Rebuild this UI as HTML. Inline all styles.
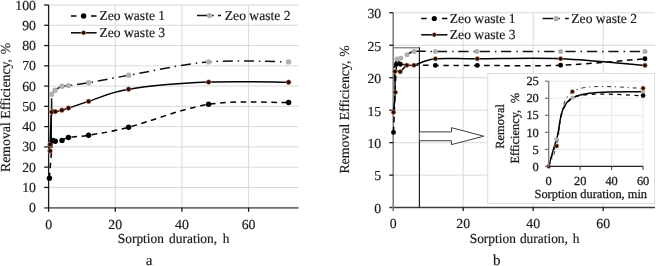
<!DOCTYPE html>
<html><head><meta charset="utf-8"><style>
html,body{margin:0;padding:0;background:#fff;}
body{width:656px;height:266px;overflow:hidden;}
svg{display:block;will-change:transform;}
svg text{font-family:"Liberation Serif",serif;fill:#1a1a1a;stroke:#1a1a1a;stroke-width:0.18px;text-rendering:geometricPrecision;}
</style></head><body>
<svg width="656" height="266" viewBox="0 0 656 266">
<rect width="656" height="266" fill="#fff"/>
<line x1="48.6" y1="187.43" x2="298.6" y2="187.43" stroke="#d9d9d9" stroke-width="1.0"/>
<line x1="48.6" y1="167.16" x2="298.6" y2="167.16" stroke="#d9d9d9" stroke-width="1.0"/>
<line x1="48.6" y1="146.89" x2="298.6" y2="146.89" stroke="#d9d9d9" stroke-width="1.0"/>
<line x1="48.6" y1="126.62" x2="298.6" y2="126.62" stroke="#d9d9d9" stroke-width="1.0"/>
<line x1="48.6" y1="106.35" x2="298.6" y2="106.35" stroke="#d9d9d9" stroke-width="1.0"/>
<line x1="48.6" y1="86.08" x2="298.6" y2="86.08" stroke="#d9d9d9" stroke-width="1.0"/>
<line x1="48.6" y1="65.81" x2="298.6" y2="65.81" stroke="#d9d9d9" stroke-width="1.0"/>
<line x1="48.6" y1="45.54" x2="298.6" y2="45.54" stroke="#d9d9d9" stroke-width="1.0"/>
<line x1="48.6" y1="25.27" x2="298.6" y2="25.27" stroke="#d9d9d9" stroke-width="1.0"/>
<line x1="48.6" y1="5" x2="298.6" y2="5" stroke="#d9d9d9" stroke-width="1.0"/>
<line x1="115.27" y1="5" x2="115.27" y2="207.7" stroke="#d9d9d9" stroke-width="1.0"/>
<line x1="181.93" y1="5" x2="181.93" y2="207.7" stroke="#d9d9d9" stroke-width="1.0"/>
<line x1="248.6" y1="5" x2="248.6" y2="207.7" stroke="#d9d9d9" stroke-width="1.0"/>
<line x1="44.2" y1="207.9" x2="298.6" y2="207.9" stroke="#6e6e6e" stroke-width="1.6"/>
<line x1="48.6" y1="5" x2="48.6" y2="211.8" stroke="#1a1a1a" stroke-width="1.3"/>
<line x1="44.2" y1="187.43" x2="48.6" y2="187.43" stroke="#1a1a1a" stroke-width="1.3"/>
<line x1="44.2" y1="167.16" x2="48.6" y2="167.16" stroke="#1a1a1a" stroke-width="1.3"/>
<line x1="44.2" y1="146.89" x2="48.6" y2="146.89" stroke="#1a1a1a" stroke-width="1.3"/>
<line x1="44.2" y1="126.62" x2="48.6" y2="126.62" stroke="#1a1a1a" stroke-width="1.3"/>
<line x1="44.2" y1="106.35" x2="48.6" y2="106.35" stroke="#1a1a1a" stroke-width="1.3"/>
<line x1="44.2" y1="86.08" x2="48.6" y2="86.08" stroke="#1a1a1a" stroke-width="1.3"/>
<line x1="44.2" y1="65.81" x2="48.6" y2="65.81" stroke="#1a1a1a" stroke-width="1.3"/>
<line x1="44.2" y1="45.54" x2="48.6" y2="45.54" stroke="#1a1a1a" stroke-width="1.3"/>
<line x1="44.2" y1="25.27" x2="48.6" y2="25.27" stroke="#1a1a1a" stroke-width="1.3"/>
<line x1="44.2" y1="5" x2="48.6" y2="5" stroke="#1a1a1a" stroke-width="1.3"/>
<line x1="115.27" y1="207.7" x2="115.27" y2="211.8" stroke="#1a1a1a" stroke-width="1.3"/>
<line x1="181.93" y1="207.7" x2="181.93" y2="211.8" stroke="#1a1a1a" stroke-width="1.3"/>
<line x1="248.6" y1="207.7" x2="248.6" y2="211.8" stroke="#1a1a1a" stroke-width="1.3"/>
<path d="M51.6,94.2 C52.18,93.53 53.37,91.52 55.1,90.2 C56.83,88.88 59.78,87.07 62,86.3 C64.22,85.53 63.97,86.18 68.4,85.6 C72.83,85.02 78.55,84.52 88.6,82.8 C98.65,81.08 108.7,78.78 128.7,75.3 C148.7,71.82 181.95,64.13 208.6,61.9 C235.25,59.67 275.27,61.9 288.6,61.9" fill="none" stroke="#111" stroke-width="1.5" stroke-dasharray="10 4.8 1.5 4.8" stroke-dashoffset="-7.4"/>
<line x1="51.6" y1="98.3" x2="51.6" y2="109.2" stroke="#111" stroke-width="1.5"/>
<path d="M50.1,150.9 C50.1,149.83 49.82,150.98 50.1,144.5 C50.38,138.02 50.93,117.48 51.8,112 C52.67,106.52 53.62,111.9 55.3,111.6 C56.98,111.3 59.72,110.78 61.9,110.2 C64.08,109.62 63.95,109.57 68.4,108.1 C72.85,106.63 78.57,104.55 88.6,101.4 C98.63,98.25 108.6,92.42 128.6,89.2 C148.6,85.98 181.93,83.25 208.6,82.1 C235.27,80.95 275.27,82.27 288.6,82.3" fill="none" stroke="#000" stroke-width="1.5"/>
<path d="M49.4,178.3 C49.93,172.02 51.62,146.78 52.6,140.6 C53.58,134.42 53.73,141.23 55.3,141.2 C56.87,141.17 59.82,141.02 62,140.4 C64.18,139.78 63.97,138.37 68.4,137.5 C72.83,136.63 78.57,136.9 88.6,135.2 C98.63,133.5 108.6,132.45 128.6,127.3 C148.6,122.15 181.93,108.43 208.6,104.3 C235.27,100.17 275.27,102.8 288.6,102.5" fill="none" stroke="#000" stroke-width="1.5" stroke-dasharray="5.6 4.6" stroke-dashoffset="0"/>
<path d="M51.2,114.5 L51.2,137 Q51.4,140.3 54,140.5" fill="none" stroke="#000" stroke-width="1.4"/>
<circle cx="51.6" cy="94.2" r="2.7" fill="#b0b0b0"/>
<circle cx="55.1" cy="90.2" r="2.7" fill="#b0b0b0"/>
<circle cx="62" cy="86.3" r="2.7" fill="#b0b0b0"/>
<circle cx="68.4" cy="85.6" r="2.7" fill="#b0b0b0"/>
<circle cx="88.6" cy="82.8" r="2.7" fill="#b0b0b0"/>
<circle cx="128.7" cy="75.3" r="2.7" fill="#b0b0b0"/>
<circle cx="208.6" cy="61.9" r="2.7" fill="#b0b0b0"/>
<circle cx="288.6" cy="61.9" r="2.7" fill="#b0b0b0"/>
<circle cx="50.1" cy="150.9" r="2.45" fill="#240800" stroke="#dca080" stroke-width="0.65"/>
<circle cx="50.1" cy="144.5" r="2.45" fill="#240800" stroke="#dca080" stroke-width="0.65"/>
<circle cx="51.8" cy="112" r="2.45" fill="#240800" stroke="#dca080" stroke-width="0.65"/>
<circle cx="55.3" cy="111.6" r="2.45" fill="#240800" stroke="#dca080" stroke-width="0.65"/>
<circle cx="61.9" cy="110.2" r="2.45" fill="#240800" stroke="#dca080" stroke-width="0.65"/>
<circle cx="68.4" cy="108.1" r="2.45" fill="#240800" stroke="#dca080" stroke-width="0.65"/>
<circle cx="88.6" cy="101.4" r="2.45" fill="#240800" stroke="#dca080" stroke-width="0.65"/>
<circle cx="128.6" cy="89.2" r="2.45" fill="#240800" stroke="#dca080" stroke-width="0.65"/>
<circle cx="208.6" cy="82.1" r="2.45" fill="#240800" stroke="#dca080" stroke-width="0.65"/>
<circle cx="288.6" cy="82.3" r="2.45" fill="#240800" stroke="#dca080" stroke-width="0.65"/>
<circle cx="49.4" cy="178.3" r="2.7" fill="#000"/>
<circle cx="52.6" cy="140.6" r="2.7" fill="#000"/>
<circle cx="55.3" cy="141.2" r="2.7" fill="#000"/>
<circle cx="62" cy="140.4" r="2.7" fill="#000"/>
<circle cx="68.4" cy="137.5" r="2.7" fill="#000"/>
<circle cx="88.6" cy="135.2" r="2.7" fill="#000"/>
<circle cx="128.6" cy="127.3" r="2.7" fill="#000"/>
<circle cx="208.6" cy="104.3" r="2.7" fill="#000"/>
<circle cx="288.6" cy="102.5" r="2.7" fill="#000"/>
<text x="36" y="212.3" font-size="13.8" text-anchor="end">0</text>
<text x="36" y="192.03" font-size="13.8" text-anchor="end">10</text>
<text x="36" y="171.76" font-size="13.8" text-anchor="end">20</text>
<text x="36" y="151.49" font-size="13.8" text-anchor="end">30</text>
<text x="36" y="131.22" font-size="13.8" text-anchor="end">40</text>
<text x="36" y="110.95" font-size="13.8" text-anchor="end">50</text>
<text x="36" y="90.68" font-size="13.8" text-anchor="end">60</text>
<text x="36" y="70.41" font-size="13.8" text-anchor="end">70</text>
<text x="36" y="50.14" font-size="13.8" text-anchor="end">80</text>
<text x="36" y="29.87" font-size="13.8" text-anchor="end">90</text>
<text x="36" y="9.6" font-size="13.8" text-anchor="end">100</text>
<text x="48.6" y="228.8" font-size="13.8" text-anchor="middle">0</text>
<text x="115.27" y="228.8" font-size="13.8" text-anchor="middle">20</text>
<text x="181.93" y="228.8" font-size="13.8" text-anchor="middle">40</text>
<text x="248.6" y="228.8" font-size="13.8" text-anchor="middle">60</text>
<text transform="translate(117.8,243.3) scale(0.971,1)" font-size="13.8">Sorption</text>
<text transform="translate(169.1,243.3) scale(0.971,1)" font-size="13.8">duration,</text>
<text transform="translate(222.7,243.3) scale(0.971,1)" font-size="13.8">h</text>
<text x="145.7" y="264.7" font-size="15">a</text>
<text transform="translate(9.7,172) rotate(-90)" font-size="13.8">Removal Efficiency,<tspan dx="1.2"> %</tspan></text>
<line x1="71" y1="16" x2="96.6" y2="16" stroke="#000" stroke-width="1.5" stroke-dasharray="5.5 14.5 5.5"/>
<circle cx="83.6" cy="16" r="2.7" fill="#000"/>
<text transform="translate(99.5,20.2) scale(0.985,1)" font-size="13.8">Zeo waste 1</text>
<line x1="71" y1="32.8" x2="96.6" y2="32.8" stroke="#000" stroke-width="1.5"/>
<circle cx="83.6" cy="32.8" r="2.3" fill="#240800" stroke="#eec4ae" stroke-width="0.6"/>
<text transform="translate(99.5,37) scale(0.985,1)" font-size="13.8">Zeo waste 3</text>
<line x1="197" y1="15.6" x2="221" y2="15.6" stroke="#111" stroke-width="1.5" stroke-dasharray="10 5.2 1.6 4.1 3.1"/>
<circle cx="209.4" cy="15.6" r="2.7" fill="#b0b0b0"/>
<text transform="translate(224.8,20) scale(0.985,1)" font-size="13.8">Zeo waste 2</text>
<line x1="393.2" y1="175.13" x2="655" y2="175.13" stroke="#d9d9d9" stroke-width="1.0"/>
<line x1="393.2" y1="142.67" x2="655" y2="142.67" stroke="#d9d9d9" stroke-width="1.0"/>
<line x1="393.2" y1="110.2" x2="655" y2="110.2" stroke="#d9d9d9" stroke-width="1.0"/>
<line x1="393.2" y1="77.73" x2="655" y2="77.73" stroke="#d9d9d9" stroke-width="1.0"/>
<line x1="393.2" y1="45.27" x2="655" y2="45.27" stroke="#d9d9d9" stroke-width="1.0"/>
<line x1="393.2" y1="12.8" x2="655" y2="12.8" stroke="#d9d9d9" stroke-width="1.0"/>
<line x1="463.2" y1="12.8" x2="463.2" y2="207.6" stroke="#d9d9d9" stroke-width="1.0"/>
<line x1="533.2" y1="12.8" x2="533.2" y2="207.6" stroke="#d9d9d9" stroke-width="1.0"/>
<line x1="603.2" y1="12.8" x2="603.2" y2="207.6" stroke="#d9d9d9" stroke-width="1.0"/>
<line x1="389.2" y1="207.5" x2="655" y2="207.5" stroke="#3c3c3c" stroke-width="1.35"/>
<line x1="393.2" y1="12.8" x2="393.2" y2="211" stroke="#7a7a7a" stroke-width="1.5"/>
<line x1="389.2" y1="175.13" x2="393.2" y2="175.13" stroke="#1a1a1a" stroke-width="1.3"/>
<line x1="389.2" y1="142.67" x2="393.2" y2="142.67" stroke="#1a1a1a" stroke-width="1.3"/>
<line x1="389.2" y1="110.2" x2="393.2" y2="110.2" stroke="#1a1a1a" stroke-width="1.3"/>
<line x1="389.2" y1="77.73" x2="393.2" y2="77.73" stroke="#1a1a1a" stroke-width="1.3"/>
<line x1="389.2" y1="45.27" x2="393.2" y2="45.27" stroke="#1a1a1a" stroke-width="1.3"/>
<line x1="389.2" y1="12.8" x2="393.2" y2="12.8" stroke="#1a1a1a" stroke-width="1.3"/>
<line x1="463.2" y1="207.6" x2="463.2" y2="211" stroke="#1a1a1a" stroke-width="1.3"/>
<line x1="533.2" y1="207.6" x2="533.2" y2="211" stroke="#1a1a1a" stroke-width="1.3"/>
<line x1="603.2" y1="207.6" x2="603.2" y2="211" stroke="#1a1a1a" stroke-width="1.3"/>
<path d="M394.2,68 C394.65,66.48 395.83,60.52 396.9,58.9 C397.97,57.28 398.93,58.98 400.6,58.3 C402.27,57.62 404.67,55.93 406.9,54.8 C409.13,53.67 409.27,52.05 414,51.5" fill="none" stroke="#111" stroke-width="1.5" stroke-dasharray="10 4.8 1.5 4.8" stroke-dashoffset="0"/>
<path d="M414,51.5 C418.73,50.95 424.82,51.5 435.3,51.5 C445.78,51.5 456.02,51.5 476.9,51.5 C497.78,51.5 532.58,51.5 560.6,51.5 C588.62,51.5 630.93,51.5 645,51.5" fill="none" stroke="#111" stroke-width="1.5" stroke-dasharray="10.2 4.9 1.5 4.8" stroke-dashoffset="-1.7"/>
<path d="M393.5,112.3 C393.8,108.97 395.05,99.1 395.3,92.3 C395.55,85.5 394.18,74.92 395,71.5 C395.82,68.08 398.22,72.85 400.2,71.8 C402.18,70.75 404.6,66.3 406.9,65.2 C409.2,64.1 409.25,66.27 414,65.2 C418.75,64.13 424.85,59.87 435.4,58.8 C445.95,57.73 456.43,58.82 477.3,58.8 C498.17,58.78 532.65,57.6 560.6,58.7 C588.55,59.8 630.93,64.28 645,65.4" fill="none" stroke="#000" stroke-width="1.5"/>
<path d="M393.5,132.4 C394.02,121.03 395.45,75.57 396.6,64.2 C397.75,52.83 398.63,64.07 400.4,64.2 C402.17,64.33 404.9,64.83 407.2,65 C409.5,65.17 409.5,65.13 414.2,65.2 C418.9,65.27 424.88,65.37 435.4,65.4 C445.92,65.43 456.43,65.42 477.3,65.4 C498.17,65.38 532.65,66.42 560.6,65.3 C588.55,64.18 630.93,59.8 645,58.7" fill="none" stroke="#000" stroke-width="1.5" stroke-dasharray="5.6 4.6"/>
<circle cx="396.9" cy="58.9" r="2.5" fill="#b0b0b0"/>
<circle cx="400.6" cy="58.3" r="2.5" fill="#b0b0b0"/>
<circle cx="406.9" cy="54.8" r="2.5" fill="#b0b0b0"/>
<circle cx="414" cy="51.5" r="2.5" fill="#b0b0b0"/>
<circle cx="435.3" cy="51.5" r="2.5" fill="#b0b0b0"/>
<circle cx="476.9" cy="51.5" r="2.5" fill="#b0b0b0"/>
<circle cx="560.6" cy="51.5" r="2.5" fill="#b0b0b0"/>
<circle cx="645" cy="51.5" r="2.5" fill="#b0b0b0"/>
<circle cx="393.5" cy="112.3" r="2.3" fill="#240800" stroke="#dca080" stroke-width="0.65"/>
<circle cx="395.3" cy="92.3" r="2.3" fill="#240800" stroke="#dca080" stroke-width="0.65"/>
<circle cx="395" cy="71.5" r="2.3" fill="#240800" stroke="#dca080" stroke-width="0.65"/>
<circle cx="400.2" cy="71.8" r="2.3" fill="#240800" stroke="#dca080" stroke-width="0.65"/>
<circle cx="406.9" cy="65.2" r="2.3" fill="#240800" stroke="#dca080" stroke-width="0.65"/>
<circle cx="414" cy="65.2" r="2.3" fill="#240800" stroke="#dca080" stroke-width="0.65"/>
<circle cx="435.4" cy="58.8" r="2.3" fill="#240800" stroke="#dca080" stroke-width="0.65"/>
<circle cx="477.3" cy="58.8" r="2.3" fill="#240800" stroke="#dca080" stroke-width="0.65"/>
<circle cx="560.6" cy="58.7" r="2.3" fill="#240800" stroke="#dca080" stroke-width="0.65"/>
<circle cx="645" cy="65.4" r="2.3" fill="#240800" stroke="#dca080" stroke-width="0.65"/>
<circle cx="393.5" cy="132.4" r="2.45" fill="#000"/>
<circle cx="396.6" cy="64.2" r="2.45" fill="#000"/>
<circle cx="400.4" cy="64.2" r="2.45" fill="#000"/>
<circle cx="435.4" cy="65.4" r="2.45" fill="#000"/>
<circle cx="477.3" cy="65.4" r="2.45" fill="#000"/>
<circle cx="560.6" cy="65.3" r="2.45" fill="#000"/>
<circle cx="645" cy="58.7" r="2.45" fill="#000"/>
<line x1="393.2" y1="47.8" x2="419.4" y2="47.8" stroke="#6a6a6a" stroke-width="1.1"/>
<line x1="419.4" y1="47.3" x2="419.4" y2="207.6" stroke="#111" stroke-width="1.1"/>
<text x="381.2" y="212.9" font-size="13.8" text-anchor="end">0</text>
<text x="381.2" y="180.43" font-size="13.8" text-anchor="end">5</text>
<text x="381.2" y="147.97" font-size="13.8" text-anchor="end">10</text>
<text x="381.2" y="115.5" font-size="13.8" text-anchor="end">15</text>
<text x="381.2" y="83.03" font-size="13.8" text-anchor="end">20</text>
<text x="381.2" y="50.57" font-size="13.8" text-anchor="end">25</text>
<text x="381.2" y="18.1" font-size="13.8" text-anchor="end">30</text>
<text x="393.2" y="227.5" font-size="13.8" text-anchor="middle">0</text>
<text x="463.2" y="227.5" font-size="13.8" text-anchor="middle">20</text>
<text x="533.2" y="227.5" font-size="13.8" text-anchor="middle">40</text>
<text x="603.2" y="227.5" font-size="13.8" text-anchor="middle">60</text>
<text transform="translate(469.7,242.9) scale(0.971,1)" font-size="13.8">Sorption</text>
<text transform="translate(519.9,242.9) scale(0.971,1)" font-size="13.8">duration,</text>
<text transform="translate(572.7,242.9) scale(0.971,1)" font-size="13.8">h</text>
<text x="492.9" y="264.8" font-size="15">b</text>
<text transform="translate(348.5,173.6) rotate(-90)" font-size="13.8">Removal Efficiency,<tspan dx="0.3"> %</tspan></text>
<line x1="421.2" y1="18.5" x2="447.4" y2="18.5" stroke="#000" stroke-width="1.5" stroke-dasharray="5.5 15.2 5.5"/>
<circle cx="434.3" cy="18.5" r="2.6" fill="#000"/>
<text transform="translate(449.8,22.5) scale(0.985,1)" font-size="13.8">Zeo waste 1</text>
<line x1="421.2" y1="34.8" x2="447.4" y2="34.8" stroke="#000" stroke-width="1.5"/>
<circle cx="434.3" cy="34.8" r="2.2" fill="#240800" stroke="#eec4ae" stroke-width="0.6"/>
<text transform="translate(449.8,39.3) scale(0.985,1)" font-size="13.8">Zeo waste 3</text>
<line x1="542.5" y1="18.5" x2="569" y2="18.5" stroke="#111" stroke-width="1.5" stroke-dasharray="10.5 5.2 1.6 5.2 3.8"/>
<circle cx="556" cy="18.5" r="2.6" fill="#b0b0b0"/>
<text transform="translate(571.3,22.5) scale(0.985,1)" font-size="13.8">Zeo waste 2</text>
<path d="M419.7,131.9 H451.5 V127.7 L483.7,136.2 L451.5,144.6 V140.7 H419.7" fill="#fff" stroke="#404040" stroke-width="1"/>
<rect x="487.7" y="73.5" width="166.9" height="130.0" fill="#fff" stroke="#dedede" stroke-width="1"/>
<line x1="548.7" y1="149.36" x2="643.1" y2="149.36" stroke="#e3e3e3" stroke-width="0.8"/>
<line x1="548.7" y1="132.32" x2="643.1" y2="132.32" stroke="#e3e3e3" stroke-width="0.8"/>
<line x1="548.7" y1="115.28" x2="643.1" y2="115.28" stroke="#e3e3e3" stroke-width="0.8"/>
<line x1="548.7" y1="98.24" x2="643.1" y2="98.24" stroke="#e3e3e3" stroke-width="0.8"/>
<line x1="548.7" y1="81.2" x2="643.1" y2="81.2" stroke="#e3e3e3" stroke-width="0.8"/>
<line x1="580.17" y1="81.2" x2="580.17" y2="166.4" stroke="#e3e3e3" stroke-width="0.8"/>
<line x1="611.63" y1="81.2" x2="611.63" y2="166.4" stroke="#e3e3e3" stroke-width="0.8"/>
<line x1="643.1" y1="81.2" x2="643.1" y2="166.4" stroke="#e3e3e3" stroke-width="0.8"/>
<path d="M548.7,166.4 C550.03,163 552.75,158.45 556.7,146 C560.65,133.55 558,101.33 572.4,91.7 C586.8,82.07 631.32,88.78 643.1,88.2" fill="none" stroke="#3a3a3a" stroke-width="1.05" stroke-dasharray="4 3.8 1.2 3.8"/>
<path d="M548.7,166.4 C550,162.33 552.52,153.37 556.5,142 C560.48,130.63 558.17,105.93 572.6,98.2 C587.03,90.47 631.35,96.03 643.1,95.6" fill="none" stroke="#000" stroke-width="1.2" stroke-dasharray="4 4.5"/>
<path d="M548.7,166.4 C550,161.9 552.52,150.87 556.5,139.4 C560.48,127.93 558.17,105.58 572.6,97.6 C587.03,89.62 631.35,92.52 643.1,91.5" fill="none" stroke="#000" stroke-width="1.4"/>
<circle cx="556.5" cy="139.4" r="2.2" fill="#b0b0b0"/>
<circle cx="572.6" cy="97.6" r="2.2" fill="#b0b0b0"/>
<circle cx="643.1" cy="91.5" r="2.2" fill="#b0b0b0"/>
<circle cx="548.7" cy="166.4" r="2.15" fill="#240800" stroke="#dca080" stroke-width="0.65"/>
<circle cx="556.7" cy="146" r="2.15" fill="#240800" stroke="#dca080" stroke-width="0.65"/>
<circle cx="572.4" cy="91.7" r="2.15" fill="#240800" stroke="#dca080" stroke-width="0.65"/>
<circle cx="643.1" cy="88.2" r="2.15" fill="#240800" stroke="#dca080" stroke-width="0.65"/>
<circle cx="643.1" cy="95.6" r="2.3" fill="#000"/>
<line x1="548.1" y1="166.4" x2="643.1" y2="166.4" stroke="#262626" stroke-width="1.2"/>
<line x1="548.7" y1="81.2" x2="548.7" y2="166.4" stroke="#7a7a7a" stroke-width="1.3"/>
<line x1="545" y1="166.4" x2="548.7" y2="166.4" stroke="#6a6a6a" stroke-width="1.1"/>
<line x1="545" y1="149.36" x2="548.7" y2="149.36" stroke="#6a6a6a" stroke-width="1.1"/>
<line x1="545" y1="132.32" x2="548.7" y2="132.32" stroke="#6a6a6a" stroke-width="1.1"/>
<line x1="545" y1="115.28" x2="548.7" y2="115.28" stroke="#6a6a6a" stroke-width="1.1"/>
<line x1="545" y1="98.24" x2="548.7" y2="98.24" stroke="#6a6a6a" stroke-width="1.1"/>
<line x1="545" y1="81.2" x2="548.7" y2="81.2" stroke="#6a6a6a" stroke-width="1.1"/>
<line x1="580.17" y1="166.4" x2="580.17" y2="170" stroke="#4a4a4a" stroke-width="1.1"/>
<line x1="611.63" y1="166.4" x2="611.63" y2="170" stroke="#4a4a4a" stroke-width="1.1"/>
<line x1="643.1" y1="166.4" x2="643.1" y2="170" stroke="#4a4a4a" stroke-width="1.1"/>
<text x="538.8" y="170.6" font-size="12.4" text-anchor="end" style="stroke-width:0.26px">0</text>
<text x="538.8" y="153.56" font-size="12.4" text-anchor="end" style="stroke-width:0.26px">5</text>
<text x="538.8" y="136.52" font-size="12.4" text-anchor="end" style="stroke-width:0.26px">10</text>
<text x="538.8" y="119.48" font-size="12.4" text-anchor="end" style="stroke-width:0.26px">15</text>
<text x="538.8" y="102.44" font-size="12.4" text-anchor="end" style="stroke-width:0.26px">20</text>
<text x="538.8" y="85.4" font-size="12.4" text-anchor="end" style="stroke-width:0.26px">25</text>
<text x="548.7" y="184.8" font-size="12.4" text-anchor="middle" style="stroke-width:0.26px">0</text>
<text x="580.17" y="184.8" font-size="12.4" text-anchor="middle" style="stroke-width:0.26px">20</text>
<text x="611.63" y="184.8" font-size="12.4" text-anchor="middle" style="stroke-width:0.26px">40</text>
<text x="643.1" y="184.8" font-size="12.4" text-anchor="middle" style="stroke-width:0.26px">60</text>
<text x="534.5" y="197.6" font-size="12.4" style="stroke-width:0.26px">Sorption duration, min</text>
<text transform="translate(504.4,126.4) rotate(-90)" text-anchor="middle" font-size="12.4" style="stroke-width:0.26px">Removal</text>
<text transform="translate(518.5,163.5) rotate(-90)" font-size="12.4" style="stroke-width:0.26px">Efficiency,<tspan dx="3.4"> %</tspan></text>
</svg>
</body></html>
